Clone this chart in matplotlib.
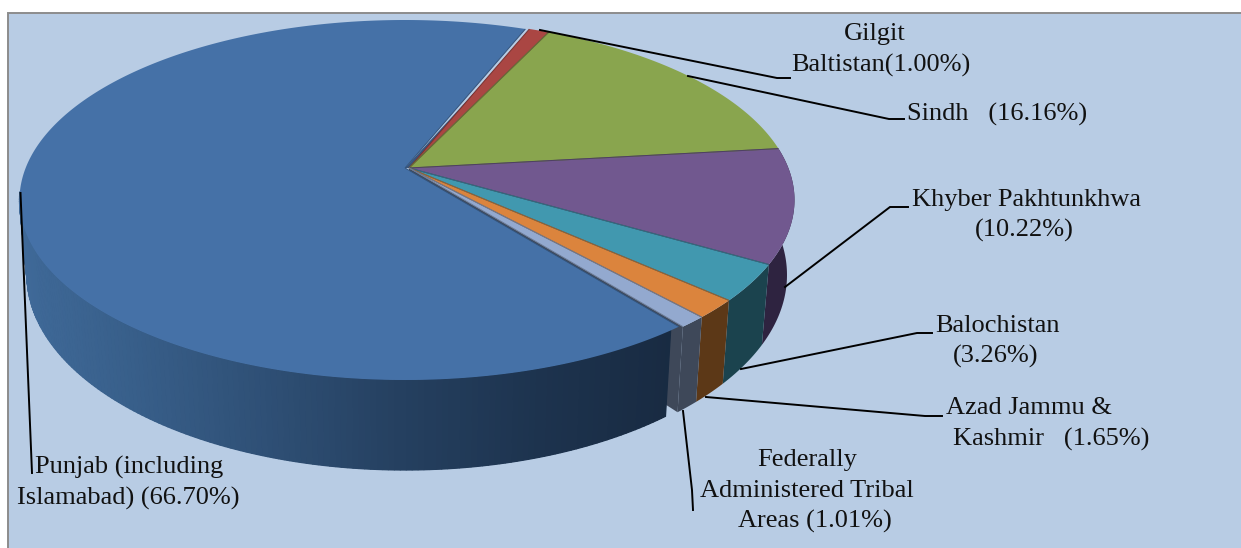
import numpy as np
import matplotlib
matplotlib.use("Agg")
import matplotlib.pyplot as plt
from matplotlib.patches import Rectangle

# clockwise from the top, the way the pie is laid out
regions = ["Gilgit Baltistan", "Sindh", "Khyber Pakhtunkhwa", "Balochistan",
           "Azad Jammu & Kashmir", "FATA", "Punjab"]
shares = [1.00, 16.16, 10.22, 3.26, 1.65, 1.01, 66.70]

top_colors = ["#aa4643", "#89a54e", "#71588f", "#4198af", "#db843d", "#93a9cf", "#4571a7"]
wall_colors = ["#6b2c2a", "#566832", "#2e2340", "#1b434e", "#5c3817", "#3e4859", "#1a2d45"]
line_colors = ["#7a3230", "#62763a", "#4f3e66", "#2f6d7e", "#9c5f2c", "#6a7a96", "#34547c"]

START_ANGLE = 68.3
CX, APEX_Y, ELL_Y = 409, 168, 200
RX, BACK, FRONT = 385.5, 148, 212
# bottom rim is another ellipse
BOT_Y, BOT_RX, BOT_RY = 275, 378, 195
ELL_RY = (BACK + FRONT) / 2

e = (FRONT - BACK) / (FRONT + BACK)
scale_y = BACK * (1 + e)
scale_x = RX * np.sqrt(1 - e ** 2)


def rim(theta_deg, dx=0.0):
    """Perspective circle -> picture pixels."""
    t = np.radians(theta_deg)
    d = 1 + e * np.sin(t)
    return CX + dx + scale_x * np.cos(t) / d, APEX_Y - scale_y * np.sin(t) / d


def drop(x, y, dx=0.0):
    """Top face point -> matching point on the bottom rim."""
    return (CX + dx + (x - CX - dx) * BOT_RX / RX,
            BOT_Y + (y - ELL_Y) * BOT_RY / ELL_RY)


def punjab_shade(x):
    stops_x = [20, 130, 260, 400, 540, 680]
    stops = np.array([[0x3f, 0x69, 0x98], [0x38, 0x5f, 0x8a], [0x2f, 0x50, 0x76],
                      [0x25, 0x40, 0x60], [0x1d, 0x33, 0x4e], [0x18, 0x2a, 0x41]]) / 255
    return [float(np.interp(x, stops_x, stops[:, i])) for i in range(3)]


fig = plt.figure(figsize=(12.41, 5.48), dpi=100, facecolor="white")
ax = fig.add_axes([0, 0, 1, 1])
ax.set_xlim(0, 1241)
ax.set_ylim(548, 0)
ax.axis("off")
ax.add_patch(Rectangle((8, 13), 1300, 600, facecolor="#b8cce4", edgecolor="#8c8c8c", lw=1.4))

# wedge angles from the shares
sweeps = np.array(shares) * 3.6
starts = START_ANGLE - np.concatenate([[0], np.cumsum(sweeps)[:-1]])
offsets = [0, 0, 0, 0, 0, 0, -4]

# cut face of the small wedge next to Punjab
lx, ly = rim(starts[5] - sweeps[5])
bx, by = drop(lx, ly)
ax_x, ax_y = drop(CX, APEX_Y)
ax.fill([lx, CX, ax_x, bx], [ly, APEX_Y, ax_y, by], color=wall_colors[5], lw=0)

# cut face in the gap between Punjab and the red wedge
gx, gy = rim(START_ANGLE - 0.6)
ax.fill([gx - 4, gx, CX, CX - 4], [gy + 4, gy + 4, APEX_Y, APEX_Y], color="#36567f", lw=0)

# side walls, only the part that faces the viewer
for i, (a0, sw, dx) in enumerate(zip(starts, sweeps, offsets)):
    steps = max(int(sw / 0.75), 2)
    ts = np.linspace(a0, a0 - sw, steps + 1)
    xs, ys = rim(ts, dx)
    xb, yb = drop(xs, ys, dx)
    if regions[i] == "Punjab":
        # the wall stops a little short of the cut face
        front = (ys > ELL_Y - 10) & (ts < a0 - 1.0)
        xs, ys, xb, yb = xs[front], ys[front], xb[front], yb[front]
        # base colour first so the strip seams do not show
        ax.fill(np.r_[xs, xb[::-1]], np.r_[ys, yb[::-1]], color="#2a4668", lw=0)
        for k in range(len(xs) - 1):
            c = punjab_shade((xs[k] + xs[k + 1]) / 2)
            ax.fill([xs[k], xs[k + 1], xb[k + 1], xb[k]], [ys[k], ys[k + 1], yb[k + 1], yb[k]],
                    facecolor=c, edgecolor=c, lw=0.9)
    elif ys.max() > ELL_Y:
        ax.fill(np.r_[xs, xb[::-1]], np.r_[ys, yb[::-1]], color=wall_colors[i], lw=0)

# top faces
for i, (a0, sw, dx) in enumerate(zip(starts, sweeps, offsets)):
    ts = np.linspace(a0, a0 - sw, max(int(sw * 2), 4) + 1)
    xs, ys = rim(ts, dx)
    ax.fill(np.r_[CX + dx, xs], np.r_[APEX_Y, ys], color=top_colors[i], lw=0)
    for t in (a0, a0 - sw):
        x1, y1 = rim(t, dx)
        ax.plot([CX + dx, x1], [APEX_Y, y1], color=line_colors[i], lw=0.7, solid_capstyle="butt")

# leader lines
leaders = [
    ([540, 777, 790], [30, 78, 78]),
    ([688, 889, 904], [76, 119, 119]),
    ([785, 890, 908], [287, 207, 207]),
    ([741, 917, 932], [369, 333, 333]),
    ([706, 925, 942], [397, 416, 416]),
    ([683, 692, 693], [411, 490, 510]),
    ([20.5, 32], [193, 473]),
]
for lx_, ly_ in leaders:
    ax.plot(lx_, ly_, color="black", lw=1.4, solid_joinstyle="miter")

labels = [
    ("Gilgit", 875, 34), ("Baltistan(1.00%)", 881, 65),
    ("Sindh   (16.16%)", 997, 114),
    ("Khyber Pakhtunkhwa", 1026, 200), ("(10.22%)", 1024, 230),
    ("Balochistan", 997, 326), ("(3.26%)", 996, 356),
    ("Azad Jammu &", 1029, 408), ("Kashmir   (1.65%)", 1051, 439),
    ("Federally", 807, 460), ("Administered Tribal", 807, 491), ("Areas (1.01%)", 815, 521),
    ("Punjab (including", 129, 467), ("Islamabad) (66.70%)", 128, 498),
]
for text, x, y in labels:
    ax.text(x, y, text, ha="center", va="center", fontsize=19, color="#111111",
            family="Liberation Serif")

fig.savefig("out.png", dpi=100)
